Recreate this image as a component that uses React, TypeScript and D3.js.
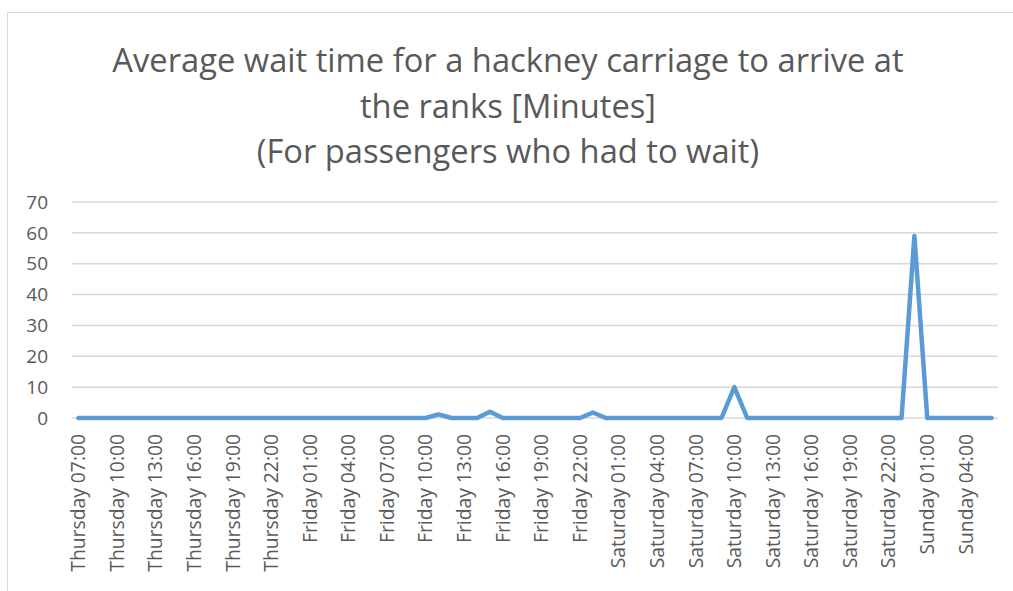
import React from 'react';
import * as d3 from 'd3';

// hourly observations, Thursday 07:00 -> Sunday 06:00
const days = ['Thursday', 'Friday', 'Saturday', 'Sunday'];
const startHour = 7;
const hourCount = 72;

const waitMinutes = [
  0, 0, 0, 0, 0, 0, 0, 0, 0, 0, 0, 0,
  0, 0, 0, 0, 0, 0, 0, 0, 0, 0, 0, 0,
  0, 0, 0, 0, 1.2, 0, 0, 0, 2, 0, 0, 0,
  0, 0, 0, 0, 1.8, 0, 0, 0, 0, 0, 0, 0,
  0, 0, 0, 10, 0, 0, 0, 0, 0, 0, 0, 0,
  0, 0, 0, 0, 0, 59, 0, 0, 0, 0, 0, 0,
];

const yTicks = [0, 10, 20, 30, 40, 50, 60, 70];

const titleLines = [
  'Average wait time for a hackney carriage to arrive at',
  'the ranks [Minutes]',
  '(For passengers who had to wait)',
];

const pad = (n: number) => (n < 10 ? '0' + n : '' + n);
const categories: string[] = [];
for (let i = 0; i < hourCount; i++) {
  const h = startHour + i;
  categories.push(`${days[Math.floor(h / 24)]} ${pad(h % 24)}:00`);
}
// every third category gets a label
const tickLabels = categories.filter((_, i) => i % 3 === 0);

const W = 1013;
const H = 591;
const font = '"Open Sans", sans-serif';
const textColor = '#595959';

const App = () => {
  const x = d3.scalePoint<string>().domain(categories).range([72, 998]).padding(0.5);
  const y = d3.scaleLinear().domain([0, 70]).range([418, 202]);

  const line = d3
    .line<number>()
    .x((_, i) => x(categories[i]) as number)
    .y(d => y(d));

  return (
    <svg
      width={W}
      height={H}
      style={{ position: 'absolute', left: 0, top: 0, background: '#fff' }}
    >
      <rect x={7.5} y={12.5} width={1020} height={600} fill="#fff" stroke="#d9d9d9" strokeWidth={1} />

      {titleLines.map((t, i) => (
        <text
          key={i}
          x={508}
          y={72 + i * 45.5}
          textAnchor="middle"
          fontFamily={font}
          fontSize={32.7}
          fill={textColor}
        >
          {t}
        </text>
      ))}

      {yTicks.map(t => (
        <g key={t}>
          <line x1={72} x2={998} y1={y(t)} y2={y(t)} stroke="#d9d9d9" strokeWidth={1.5} />
          <text
            x={48}
            y={y(t)}
            dy="0.35em"
            textAnchor="end"
            fontFamily={font}
            fontSize={19}
            fill={textColor}
          >
            {t}
          </text>
        </g>
      ))}

      {tickLabels.map(c => (
        <text
          key={c}
          transform={`translate(${x(c)},434) rotate(-90)`}
          dy="0.35em"
          textAnchor="end"
          fontFamily={font}
          fontSize={19.3}
          fill={textColor}
        >
          {c}
        </text>
      ))}

      <path
        d={line(waitMinutes) || ''}
        fill="none"
        stroke="#5b9bd5"
        strokeWidth={4.5}
        strokeLinejoin="round"
        strokeLinecap="round"
      />
    </svg>
  );
};

export default App;
